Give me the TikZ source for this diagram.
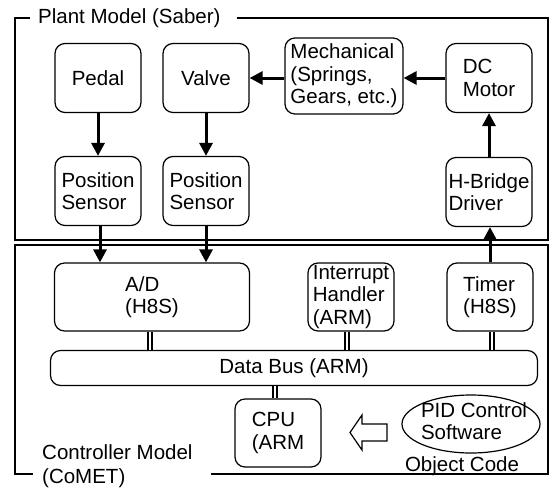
\documentclass[tikz,border=0pt]{standalone}
\usepackage{fontspec}
\setmainfont{Liberation Sans}
\usetikzlibrary{arrows.meta,positioning,shapes.geometric}

\begin{document}
\begin{tikzpicture}[x=1pt,y=-1pt,on grid,
        every node/.style={font=\fontsize{20.5}{22.5}\selectfont},
        block/.style={draw,rounded corners=10pt,line width=1.2pt,align=left,inner sep=0pt,minimum width=86pt,minimum height=69pt},
        flow/.style={-{Triangle[length=13pt,width=13pt]},line width=3pt},
        bus link/.style={double,double distance=2pt,line width=2pt},
        frame/.style={line width=1.8pt}]
    \useasboundingbox (0,0) rectangle (551,488);

    % plant model
    \node[block] (pedal) at (98,78) {Pedal};
    \node[block] (valve) [right=108pt of pedal] {Valve};
    \node[block,minimum width=118pt,minimum height=76pt] (mech) at (344,76) {Mechanical\\(Springs,\\Gears, etc.)};
    \node[block] (motor) at (489,78) {DC\\Motor};
    \node[block] (possens1) [below=113pt of pedal] {Position\\Sensor};
    \node[block] (possens2) [below=113pt of valve] {Position\\Sensor};
    \node[block] (hbridge) [below=114pt of motor] {H-Bridge\\Driver};

    % controller model
    \node[block,minimum width=195pt,minimum height=68pt] (adc) at (152,297) {A/D\\(H8S)};
    \node[block,minimum height=68pt] (irq) at (351,297) {Interrupt\\Handler\\(ARM)};
    \node[block,minimum height=68pt] (timer) at (490,297) {Timer\\(H8S)};
    \node[block,minimum width=487pt,minimum height=35pt] (bus) at (294,368) {Data Bus (ARM)};
    \node[block,minimum height=68pt] (cpu) at (278,433) {CPU\\(ARM};
    \node[draw,ellipse,line width=1.2pt,minimum width=138pt,minimum height=58pt,inner sep=0pt] (pid) at (471,424) {};
    \node[align=left] (pidsw) at (474,421) {PID Control\\Software};
    \node (objcode) at (462,466) {Object Code};

    % frames and their titles
    \draw[frame] (30,18) -| (15,240) -| (548,18) -- (237,18);
    \draw[frame] (33,474) -| (15,245) -| (548,474) -- (211,474);
    \node[anchor=north west,inner sep=2pt] (plantlbl) at (36,6) {Plant Model (Saber)};
    \node[anchor=north west,inner sep=2pt,align=left,font=\fontsize{20.5}{24}\selectfont] (ctrllbl) at (40,442) {Controller Model\\(CoMET)};

    % signals
    \draw[flow] (pedal) -- (possens1);
    \draw[flow] (valve) -- (possens2);
    \draw[flow] (mech.west |- valve) -- (valve.east);
    \draw[flow] (motor.west) -- (motor.west -| mech.east);
    \draw[flow] (hbridge) -- (motor);
    \draw[flow] (timer.north) -- (timer.north |- hbridge.south);
    \draw[flow] ([xshift=2pt]possens1.south) -- ([xshift=2pt]possens1.south |- adc.north);
    \draw[flow] (possens2.south) -- (possens2.south |- adc.north);

    % bus connections
    \draw[bus link] ([xshift=-2pt]adc.south) -- ([xshift=-2pt]adc.south |- bus.north);
    \draw[bus link] ([xshift=-4pt]irq.south) -- ([xshift=-4pt]irq.south |- bus.north);
    \draw[bus link] ([xshift=2pt]timer.south) -- ([xshift=2pt]timer.south |- bus.north);
    \draw[bus link] ([xshift=-3pt]cpu.north) -- ([xshift=-3pt]cpu.north |- bus.south);

    % object code loaded into the cpu
    \draw[line width=1.2pt] (387,424) -- (362,424) -- (362,415) -- (350,432.5) -- (362,450) -- (362,441) -- (387,441) -- cycle;
\end{tikzpicture}
\end{document}
